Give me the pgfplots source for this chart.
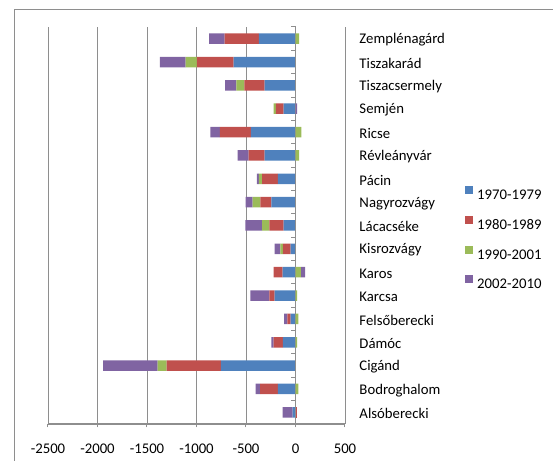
\documentclass[border=0pt]{standalone}
\usepackage{fontspec}
\setmainfont{Carlito}
\usepackage{pgfplots}
\pgfplotsset{compat=1.18}
\usepackage{pgfplotstable}
\definecolor{ser1}{HTML}{4F81BD}
\definecolor{ser2}{HTML}{C0504D}
\definecolor{ser3}{HTML}{9BBB59}
\definecolor{ser4}{HTML}{8064A2}
\definecolor{gridc}{HTML}{8E8E8E}

% negative parts (stacked leftwards) and positive parts (stacked rightwards)
\pgfplotstableread{
y  b    r    g    p
0  -30  0    0    -100
1  -177 -180 0    -47
2  -755 -547 -91  -550
3  -127 -93  0    -23
4  -50  -33  0    -33
5  -210 -53  0    -193
6  -130 -90  0    0
7  -50  -77  -27  -57
8  -120 -145 -73  -168
9  -243 -113 -77  -72
10 -177 -160 -33  -20
11 -312 -161 0    -111
12 -450 -315 0    -94
13 -120 -77  -23  0
14 -312 -205 -81  -114
15 -624 -373 -114 -258
16 -369 -346 0    -158
}\negdata
\pgfplotstableread{
y  b r  g  p
0  0 17 0  0
1  0 0  30 0
2  0 0  0  0
3  0 0  17 0
4  0 0  30 0
5  0 0  17 0
6  0 0  53 43
7  0 0  0  0
8  0 0  0  0
9  0 0  0  0
10 0 0  0  0
11 0 0  37 0
12 0 0  60 0
13 0 0  0  17
14 0 0  0  0
15 0 0  0  0
16 0 0  37 0
}\posdata

\pgfplotsset{
  common/.style={
    scale only axis, width=297bp, height=397bp,
    at={(48bp,37bp)}, anchor=south west,
    xmin=-2500, xmax=500, ymin=-0.5, ymax=16.5,
    xbar stacked, bar width=10.5bp,
    /pgf/number format/assume math mode=true,
  },
}

\begin{document}
\begin{tikzpicture}
\useasboundingbox (0,0) rectangle (553bp,461bp);
\draw[gridc, line width=0.9bp] (14.5bp,0) -- (14.5bp,452bp) -- (553bp,452bp);

\begin{axis}[common,
  axis x line*=bottom, axis y line*=right,
  x axis line style={draw=gridc, line width=1.6bp},
  y axis line style={draw=none},
  xtick={-2500,-2000,-1500,-1000,-500,0,500},
  xticklabels={-2500,-2000,-1500,-1000,-500,0,500},
  xmajorgrids, grid style={draw=gridc, line width=0.9bp},
  xtick style={draw=gridc, line width=1bp},
  major tick length=3.3bp, tick align=outside,
  ytick={0,...,16},
  yticklabels={Alsóberecki,Bodroghalom,Cigánd,Dámóc,Felsőberecki,Karcsa,Karos,Kisrozvágy,Lácacséke,Nagyrozvágy,Pácin,Révleányvár,Ricse,Semjén,Tiszacsermely,Tiszakarád,Zemplénagárd},
  ytick style={draw=none},
  tick label style={font=\fontsize{14.8}{17}\selectfont},
  yticklabel style={anchor=west, inner sep=0pt, xshift=11bp, yshift=-1.2bp},
  xticklabel style={anchor=north, inner sep=0pt, yshift=-16bp},
  legend style={draw=none, fill=none, at={(1.394,0.47)}, anchor=west,
    font=\fontsize{14.8}{17}\selectfont, column sep=4bp, row sep=16.3bp,
    nodes={inner sep=0pt, text height=10bp, text depth=0pt}},
  legend cell align=left,
  legend image code/.code={\fill[#1] (0bp,0.5bp) rectangle (8bp,8.5bp);},
]
\addplot[fill=ser1, draw=none] table[x=b, y=y] {\negdata};
\addplot[fill=ser2, draw=none] table[x=r, y=y] {\negdata};
\addplot[fill=ser3, draw=none] table[x=g, y=y] {\negdata};
\addplot[fill=ser4, draw=none] table[x=p, y=y] {\negdata};
\legend{1970-1979,1980-1989,1990-2001,2002-2010}
\end{axis}

\begin{axis}[common,
  axis x line=none, axis y line*=middle,
  y axis line style={draw=gridc, line width=1bp},
  ytick={-0.5,0.5,...,16.5}, yticklabels={},
  ytick style={draw=gridc, line width=1bp},
  major tick length=4.3bp, ytick align=outside,
]
\addplot[fill=ser1, draw=none] table[x=b, y=y] {\posdata};
\addplot[fill=ser2, draw=none] table[x=r, y=y] {\posdata};
\addplot[fill=ser3, draw=none] table[x=g, y=y] {\posdata};
\addplot[fill=ser4, draw=none] table[x=p, y=y] {\posdata};
\end{axis}
\end{tikzpicture}
\end{document}
